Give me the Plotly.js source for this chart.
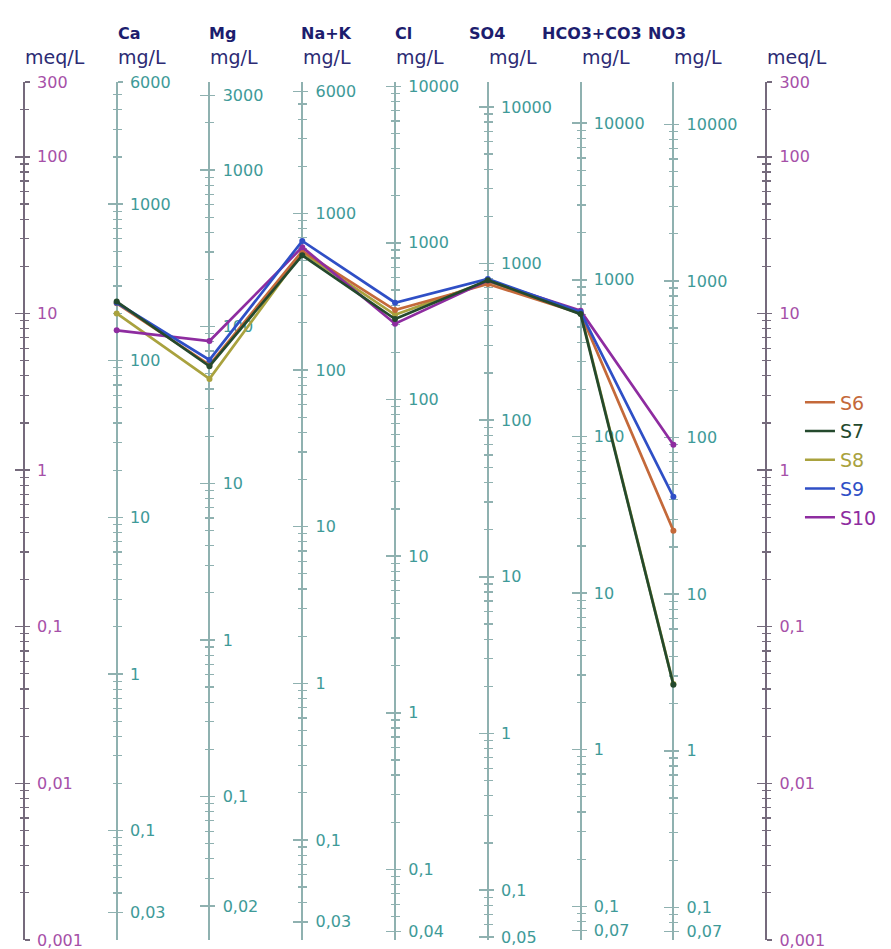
<!DOCTYPE html>
<html>
<head>
<meta charset="utf-8">
<script src="https://cdn.plot.ly/plotly-3.0.1.min.js"></script>
<style>html,body{margin:0;padding:0;background:#fff;}#chart{width:891px;height:949px;}</style>
</head>
<body>
<div id="chart"></div>
<script>
// ---------- DATA ----------
const ions = ['Ca', 'Mg', 'Na+K', 'Cl', 'SO4', 'HCO3+CO3', 'NO3'];
// equivalent weights (mg per meq) used to build each mg/L scale
const eqWeights = [20.04, 12.15, 22.99, 35.45, 48.03, 61.02, 62.0];
// labelled tick values of the mg/L scales
const tickCa   = [6000, 1000, 100, 10, 1, 0.1, 0.03];
const tickMg   = [3000, 1000, 100, 10, 1, 0.1, 0.02];
const tickNaK  = [6000, 1000, 100, 10, 1, 0.1, 0.03];
const tickCl   = [10000, 1000, 100, 10, 1, 0.1, 0.04];
const tickSO4  = [10000, 1000, 100, 10, 1, 0.1, 0.05];
const tickHCO3 = [10000, 1000, 100, 10, 1, 0.1, 0.07];
const tickNO3  = [10000, 1000, 100, 10, 1, 0.1, 0.07];
const tickMeq  = [300, 100, 10, 1, 0.1, 0.01, 0.001];
const meqMin = 0.001, meqMax = 300;

const samples = ['S6', 'S7', 'S8', 'S9', 'S10'];
// concentrations in meq/L: Ca, Mg, Na+K, Cl, SO4, HCO3+CO3, NO3
const S6  = [11.6, 4.7, 25.0, 10.5, 15.4, 10.0, 0.41];
const S7  = [11.9, 4.6, 23.5, 9.2, 16.3, 9.9, 0.0426];
const S8  = [10.0, 3.82, 24.5, 9.8, 16.0, 10.1, 0.043];
const S9  = [11.7, 5.05, 29.0, 11.7, 16.6, 10.2, 0.675];
const S10 = [7.8, 6.67, 26.5, 8.6, 16.2, 10.4, 1.45];

// ---------- STYLE / LAYOUT ----------
const sampleColors = ['#c4693a', '#24492d', '#a9a23e', '#2f4fc6', '#8e2ca0'];
const drawOrder = [2, 0, 4, 3, 1]; // S8, S6, S10, S9, S7 (last on top)
const W = 891, H = 949;
const M = {l: 10, r: 91, t: 82, b: 9};
const firstAxisPx = 24, colStepPx = 93.375;
const plotW = W - M.l - M.r, plotH = H - M.t - M.b;
const xLo = (M.l - firstAxisPx) / colStepPx;
const xHi = (W - M.r - firstAxisPx) / colStepPx;
function fracX(idx) { return (idx - xLo) / (xHi - xLo); }
function pxToPaperX(px) { return (px - M.l) / plotW; }
function pxToPaperY(py) { return 1 - (py - M.t) / plotH; }

const FONT = 'DejaVu Sans, Arial, sans-serif';
const meqLine = '#756a7c', meqLabel = '#a650a8';
const mgLine = '#8fb1b0', mgLabel = '#3e9a98';
const headColor = '#2c2b74', ionColor = '#1c1d6e';

function fmt(v) { return String(v).replace('.', ','); }
function minorTicks(lo, hi, majors) {
  const out = [];
  for (let e = Math.floor(Math.log10(lo)) - 1; e <= Math.ceil(Math.log10(hi)); e++) {
    for (let m = 2; m <= 9; m++) {
      const v = parseFloat((m * Math.pow(10, e)).toPrecision(6));
      if (v > lo * 1.0001 && v < hi * 0.9999 && majors.indexOf(v) < 0) out.push(v);
    }
  }
  return out;
}

const columns = [
  {ticks: tickMeq, ew: 1, meq: true},
  {ticks: tickCa, ew: eqWeights[0]},
  {ticks: tickMg, ew: eqWeights[1]},
  {ticks: tickNaK, ew: eqWeights[2]},
  {ticks: tickCl, ew: eqWeights[3]},
  {ticks: tickSO4, ew: eqWeights[4]},
  {ticks: tickHCO3, ew: eqWeights[5]},
  {ticks: tickNO3, ew: eqWeights[6]},
  {ticks: tickMeq, ew: 1, meq: true}
];

const layout = {
  width: W, height: H,
  margin: M,
  paper_bgcolor: '#ffffff', plot_bgcolor: 'rgba(0,0,0,0)',
  showlegend: true,
  legend: {x: pxToPaperX(805), xanchor: 'left', y: pxToPaperY(460), yanchor: 'middle',
           font: {family: FONT, size: 19, color: '#333'}, bgcolor: 'rgba(0,0,0,0)',
           tracegroupgap: 1},
  xaxis: {range: [xLo, xHi], visible: false, fixedrange: true},
  annotations: [],
  font: {family: FONT}
};

const axisTraces = [];
let axisNum = 1;
columns.forEach((c, k) => {
  const lo = meqMin * c.ew, hi = meqMax * c.ew;
  const range = [Math.log10(lo) - 0.0004, Math.log10(hi) + 0.0004];
  const majors = c.ticks;
  const minors = minorTicks(Math.min.apply(null, majors), Math.max.apply(null, majors), majors);
  const lc = c.meq ? meqLine : mgLine;
  const base = {
    type: 'log', range: range, autorange: false, anchor: 'free', position: fracX(k), side: 'right',
    showgrid: false, zeroline: false, fixedrange: true, automargin: false,
    layer: 'below traces', tickcolor: lc, tickwidth: 1.5
  };
  const a = Object.assign({}, base, {
    showline: true, linecolor: lc, linewidth: 2,
    ticks: 'outside', ticklen: 5,
    tickmode: 'array', tickvals: majors, ticktext: majors.map(fmt),
    tickfont: {family: FONT, size: 16, color: c.meq ? meqLabel : mgLabel},
    ticklabelstandoff: 4, ticklabeloverflow: 'allow',
    minor: {tickmode: 'array', tickvals: minors, ticks: 'outside', ticklen: 4, tickcolor: lc, tickwidth: 1.2}
  });
  const b = Object.assign({}, base, {
    showline: false, showticklabels: false,
    ticks: 'inside', ticklen: 9,
    tickmode: 'array', tickvals: majors,
    minor: {tickmode: 'array', tickvals: minors, ticks: 'inside', ticklen: 4, tickcolor: lc, tickwidth: 1.2}
  });
  [a, b].forEach(ax => {
    const key = axisNum === 1 ? 'yaxis' : 'yaxis' + axisNum;
    const ref = axisNum === 1 ? 'y' : 'y' + axisNum;
    if (axisNum !== 1) ax.overlaying = 'y';
    layout[key] = ax;
    // empty trace so that the library creates and draws this axis
    axisTraces.push({type: 'scatter', mode: 'markers', x: [null], y: [null],
                     xaxis: 'x', yaxis: ref, showlegend: false, hoverinfo: 'skip'});
    axisNum++;
  });

  // header text ("meq/L" / "mg/L")
  layout.annotations.push({
    xref: 'paper', yref: 'paper', x: fracX(k), y: pxToPaperY(57),
    xanchor: 'left', yanchor: 'middle', showarrow: false,
    text: c.meq ? 'meq/L' : 'mg/L', xshift: -1,
    font: {family: FONT, size: 19, color: headColor}
  });
});

// ion names
const ionNamePx = [117, 208, 301, 395, 470, 543, 650];
ions.forEach((name, i) => {
  layout.annotations.push({
    xref: 'paper', yref: 'paper', x: pxToPaperX(ionNamePx[i]), y: pxToPaperY(34),
    xanchor: 'left', yanchor: 'middle', showarrow: false,
    text: '<b>' + name + '</b>',
    font: {family: FONT, size: 16, color: ionColor}
  });
});

const series = [S6, S7, S8, S9, S10];
const xIdx = ions.map((_, i) => i + 1);
const traces = axisTraces.slice();
drawOrder.forEach(s => {
  const vals = series[s];
  traces.push({
    type: 'scatter', mode: 'lines+markers', x: xIdx, y: vals,
    xaxis: 'x', yaxis: 'y', name: samples[s], showlegend: false,
    line: {color: sampleColors[s], width: 2.7},
    marker: {color: sampleColors[s], size: 6},
    hoverinfo: 'skip'
  });
});
series.forEach((vals, s) => {
  traces.push({
    type: 'scatter', mode: 'lines', x: [null], y: [null],
    xaxis: 'x', yaxis: 'y', legendgroup: 'g' + s,
    name: '<span style="color:' + sampleColors[s] + '">' + samples[s] + '</span>',
    line: {color: sampleColors[s], width: 2.5}, showlegend: true
  });
});

Plotly.newPlot('chart', traces, layout, {staticPlot: true, displayModeBar: false});
</script>
</body>
</html>
